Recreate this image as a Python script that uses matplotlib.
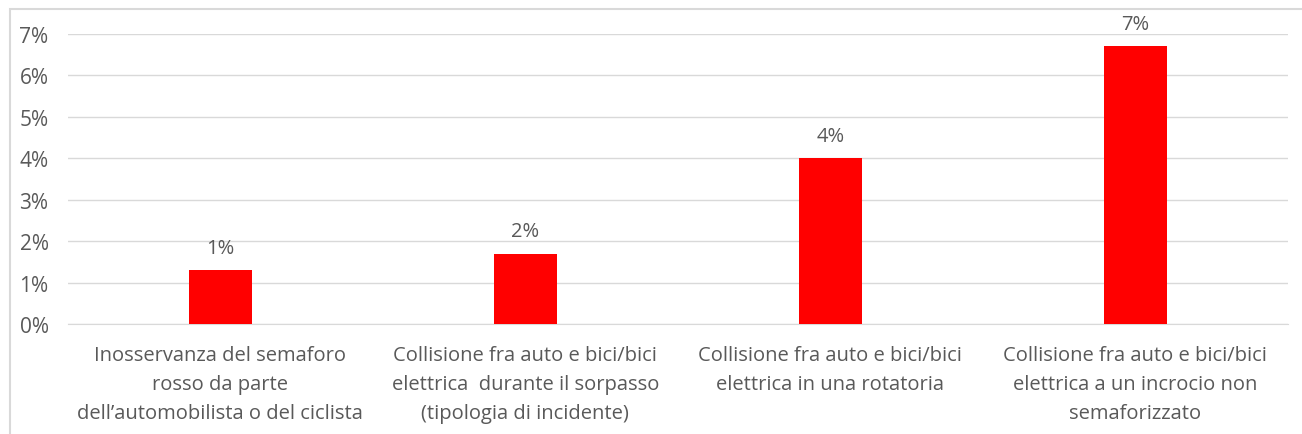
import numpy as np
import matplotlib.pyplot as plt
from matplotlib.patches import Rectangle

# ==== Data ====
categories = [
    "Inosservanza del semaforo\nrosso da parte\ndell\u2019automobilista o del ciclista",
    "Collisione fra auto e bici/bici\nelettrica  durante il sorpasso\n(tipologia di incidente)",
    "Collisione fra auto e bici/bici\nelettrica in una rotatoria",
    "Collisione fra auto e bici/bici\nelettrica a un incrocio non\nsemaforizzato",
]
values = [0.013, 0.017, 0.040, 0.067]
yticks = [0, 0.01, 0.02, 0.03, 0.04, 0.05, 0.06, 0.07]

text_color = "#595959"
plt.rcParams["font.family"] = ["Open Sans", "DejaVu Sans"]

fig = plt.figure(figsize=(13.02, 4.35), dpi=100)
ax = fig.add_axes([0.0522, 0.2529, 0.9368, 0.6666])

x = np.arange(len(categories))
ax.bar(x, values, width=0.207, color="#ff0000", zorder=3)

for xi, v in zip(x, values):
    ax.annotate(f"{v * 100:.0f}%", (xi, v), xytext=(0, 9), textcoords="offset points",
                ha="center", va="bottom", fontsize=14.5, color=text_color)

ax.set_xlim(-0.5, len(categories) - 0.5)
ax.set_ylim(0, 0.07)
ax.set_yticks(yticks)
ax.set_yticklabels([f"{t * 100:.0f}%" for t in yticks])
ax.set_xticks(x)
ax.set_xticklabels(categories, fontsize=14.5, color=text_color, linespacing=1.6)
ax.tick_params(axis="y", labelsize=15, labelcolor=text_color, length=0, pad=14)
ax.tick_params(axis="x", length=0, pad=15)

ax.grid(axis="y", color="#d9d9d9", linewidth=1, zorder=0)
for s in ["top", "right", "left"]:
    ax.spines[s].set_visible(False)
ax.spines["bottom"].set_color("#d9d9d9")

# chart area border
fig.patches.append(Rectangle((10 / 1302, -0.1), 1.2, 1 - 10 / 435 + 0.1,
                             transform=fig.transFigure, fill=False,
                             edgecolor="#d9d9d9", linewidth=1.5))

plt.savefig("out.png", dpi=100)
